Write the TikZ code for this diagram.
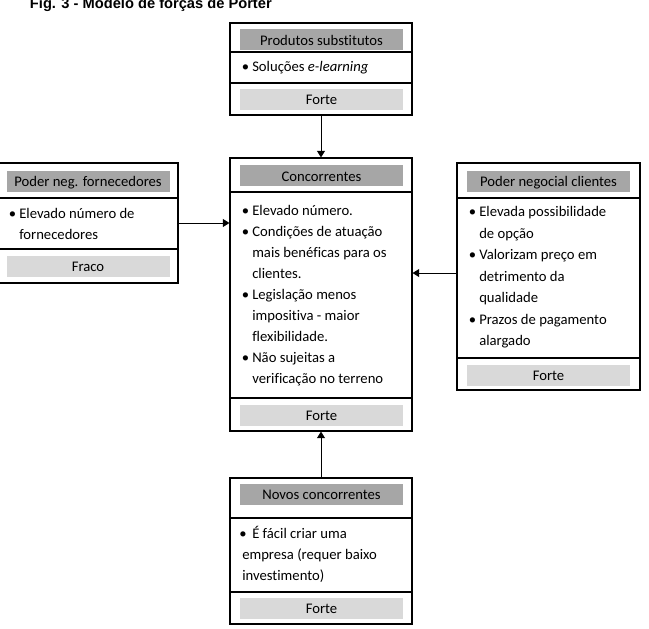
\documentclass[tikz,border=0pt]{standalone}
\usepackage{fontspec}
\setmainfont{Carlito}[Ligatures=NoCommon]
\newfontfamily\titlefont{Liberation Sans}
\usepackage{xcolor}
\usetikzlibrary{positioning,fit,arrows.meta}

\definecolor{hdrgray}{HTML}{A6A6A6}
\definecolor{bargray}{HTML}{D9D9D9}
\newdimen\px \px=0.75pt
\newcommand{\bul}{\makebox[10.5\px][l]{\textbullet}}
\newcommand{\ind}{\hspace*{10.5\px}}

\tikzset{
  box/.style={draw=black, line width=0.8pt, inner sep=0pt},
  sep/.style={draw=black, line width=0.8pt},
  hdr/.style={fill=hdrgray, minimum width=163*0.75pt, minimum height=21*0.75pt,
    inner sep=0pt, text height=8.25pt, text depth=0pt},
  lvl/.style={hdr, fill=bargray},
  txt/.style={anchor=base west, inner sep=0pt},
  arr/.style={-{Triangle[length=5pt,width=6pt]}, line width=0.75pt}
}

\begin{document}
\begin{tikzpicture}[x=0.75pt, y=-0.75pt, font=\fontsize{11}{15.75}\selectfont]
\useasboundingbox (0,0) rectangle (649,628);
\node[txt] (title) at (29.7,8.6) {\titlefont\bfseries Fig. 3 - Modelo de forças de Porter};

% produtos substitutos
\node[box, fit={(230,23) (412,115)}] (subst) {};
\draw[sep] (subst.west |- 0,52) -- (subst.east |- 0,52);
\draw[sep] (subst.west |- 0,83) -- (subst.east |- 0,83);
\node[hdr] (substH) at (321.5,39.5) {Produtos substitutos};
\node[txt] (substT) at (241.5,71.4) {\bul Soluções \textit{e-learning}};
\node[lvl] (substF) at (321.5,99) {Forte};

% concorrentes
\node[box, fit={(230,158) (412,431)}] (conc) {};
\draw[sep] (conc.west |- 0,192) -- (conc.east |- 0,192);
\draw[sep] (conc.west |- 0,398) -- (conc.east |- 0,398);
\node[hdr] (concH) at (321.5,175.5) {Concorrentes};
\node[txt] (concT) at (241.5,215) {\begin{tabular}[t]{@{}l@{}}
  \bul Elevado número.\\
  \bul Condições de atuação\\
  \ind mais benéficas para os\\
  \ind clientes.\\
  \bul Legislação menos\\
  \ind impositiva - maior\\
  \ind flexibilidade.\\
  \bul Não sujeitas a\\
  \ind verificação no terreno
\end{tabular}};
\node[lvl] (concF) at (321.5,415) {Forte};

% poder negocial fornecedores
\node[box, fit={(-5,163) (178,283)}] (forn) {};
\draw[sep] (forn.west |- 0,198) -- (forn.east |- 0,198);
\draw[sep] (forn.west |- 0,249) -- (forn.east |- 0,249);
\node[hdr] (fornH) at (88,181) {Poder neg. fornecedores};
\node[txt] (fornT) at (8.5,218.4) {\begin{tabular}[t]{@{}l@{}}
  \bul Elevado número de\\
  \ind fornecedores
\end{tabular}};
\node[lvl] (fornF) at (88,266) {Fraco};

% poder negocial clientes
\node[box, fit={(457,163) (640,390)}] (cli) {};
\draw[sep] (cli.west |- 0,198) -- (cli.east |- 0,198);
\draw[sep] (cli.west |- 0,358) -- (cli.east |- 0,358);
\node[hdr] (cliH) at (548.5,181) {Poder negocial clientes};
\node[txt, font=\fontsize{11}{16.1}\selectfont] (cliT) at (468.5,216.7) {\begin{tabular}[t]{@{}l@{}}
  \bul Elevada possibilidade\\
  \ind de opção\\
  \bul Valorizam preço em\\
  \ind detrimento da\\
  \ind qualidade\\
  \bul Prazos de pagamento\\
  \ind alargado
\end{tabular}};
\node[lvl] (cliF) at (548.5,375) {Forte};

% novos concorrentes
\node[box, fit={(230,478) (412,624)}] (novos) {};
\draw[sep] (novos.west |- 0,518) -- (novos.east |- 0,518);
\draw[sep] (novos.west |- 0,592) -- (novos.east |- 0,592);
\node[hdr] (novosH) at (321.5,494) {Novos concorrentes};
\node[txt] (novosT) at (242,538.4) {\begin{tabular}[t]{@{}l@{}}
  \hspace*{-3\px}\makebox[13\px][l]{\textbullet}É fácil criar uma\\
  empresa (requer baixo\\
  investimento)
\end{tabular}};
\node[lvl] (novosF) at (321.5,608) {Forte};

\draw[arr] (subst.south) -- (conc.north);
\draw[arr] (forn.east) -- (conc.west |- forn.east);
\draw[arr] ([yshift=2.6pt]cli.west) -- ([yshift=2.6pt]conc.east |- cli.west);
\draw[arr] (novos.north) -- (conc.south);
\end{tikzpicture}
\end{document}
